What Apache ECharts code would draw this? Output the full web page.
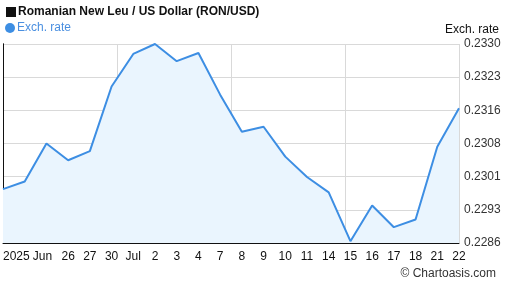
<!DOCTYPE html>
<html><head><meta charset="utf-8">
<script src="https://cdn.jsdelivr.net/npm/echarts@6/dist/echarts.min.js"></script>
<style>html,body{margin:0;padding:0;background:#fff}#c{width:507px;height:288px}</style>
</head><body><div id="c"></div>
<script>
const categories = ['2025-06-23','2025-06-24','2025-06-25','2025-06-26','2025-06-27','2025-06-30','2025-07-01','2025-07-02','2025-07-03','2025-07-04','2025-07-07','2025-07-08','2025-07-09','2025-07-10','2025-07-11','2025-07-14','2025-07-15','2025-07-16','2025-07-17','2025-07-18','2025-07-21','2025-07-22'];
const xTickLabels = ['2025','','Jun','26','27','30','Jul','2','3','4','7','8','9','10','11','14','15','16','17','18','21','22'];
const rates = [0.22979,0.22996,0.23080,0.23043,0.23063,0.23206,0.23278,0.23300,0.23262,0.23280,0.23188,0.23106,0.23117,0.23051,0.23006,0.22972,0.22864,0.22943,0.22895,0.22912,0.23073,0.23158];
const yTicks = [0.22860,0.229333,0.230067,0.230800,0.231533,0.232267,0.23300];
const yTickLabels = ['0.2286','0.2293','0.2301','0.2308','0.2316','0.2323','0.2330'];
const yMin = 0.22860, yMax = 0.23300;

const chart = echarts.init(document.getElementById('c'), null, {renderer:'canvas'});
const FONT = 'Liberation Sans, Arial, sans-serif';
chart.setOption({
  animation:false,
  title:[
    {text:'{sq|}{t|Romanian New Leu / US Dollar (RON/USD)}', left:1, top:1,
     textStyle:{fontFamily:FONT, fontSize:12, fontWeight:'bold', color:'#111',
       rich:{sq:{backgroundColor:'#111', width:10, height:10},
             t:{fontFamily:FONT, fontSize:12, fontWeight:'bold', color:'#111', padding:[0,0,0,2]}}}},
    {text:'Exch. rate', right:3, top:19, textStyle:{fontFamily:FONT, fontSize:12, fontWeight:'normal', color:'#111'}},
    {text:'© Chartoasis.com', right:6, bottom:3, textStyle:{fontFamily:FONT, fontSize:12, fontWeight:'normal', color:'#333'}}
  ],
  legend:{left:0, top:17, icon:'circle', itemWidth:10, itemHeight:10, itemGap:3,
    textStyle:{fontFamily:FONT, fontSize:12, color:'#4a8fe0', padding:[0,0,0,-3]},
    data:['Exch. rate']},
  grid:{left:1, right:48, top:44, bottom:45},
  xAxis:[{
    type:'category', data:categories, boundaryGap:false,
    axisLine:{show:true, lineStyle:{color:'#111', width:1}},
    axisTick:{show:false},
    splitLine:{show:false},
    axisLabel:{interval:0, margin:8, fontFamily:FONT, fontSize:12, color:'#111',
      alignMinLabel:'left',
      rich:{j:{fontFamily:FONT, fontSize:12, color:'#111', padding:[0,8,0,0]}},
      formatter:(v,i)=> xTickLabels[i]==='Jun' ? '{j|Jun}' : xTickLabels[i]}
  },{
    type:'value', min:0, max:4, interval:1, position:'top',
    axisLine:{show:false}, axisTick:{show:false}, axisLabel:{show:false},
    splitLine:{show:true, lineStyle:{color:'#d9d9d9', width:1}}
  }],
  yAxis:[{
    type:'value', position:'right', min:yMin, max:yMax,
    axisLine:{show:true, lineStyle:{color:'#111', width:1}},
    axisTick:{show:false, customValues:yTicks},
    splitLine:{show:true, lineStyle:{color:'#d9d9d9', width:1}},
    axisLabel:{margin:5, fontFamily:FONT, fontSize:12, color:'#333', customValues:yTicks,
      formatter:(v)=>{ let k=0,b=1; yTicks.forEach((t,i)=>{const d=Math.abs(t-v); if(d<b){b=d;k=i;}}); return yTickLabels[k]; }}
  },{
    type:'value', position:'left', min:0, max:1,
    axisLine:{show:true, onZero:false, lineStyle:{color:'#111', width:1}},
    axisTick:{show:false}, axisLabel:{show:false}, splitLine:{show:false}
  }],
  series:[{
    name:'Exch. rate', type:'line', data:rates, xAxisIndex:0, yAxisIndex:0,
    symbol:'none', smooth:false,
    lineStyle:{color:'#3d8ee3', width:2},
    itemStyle:{color:'#3d8ee3'},
    areaStyle:{color:'#eaf5fe', opacity:1}
  }]
});
</script></body></html>
